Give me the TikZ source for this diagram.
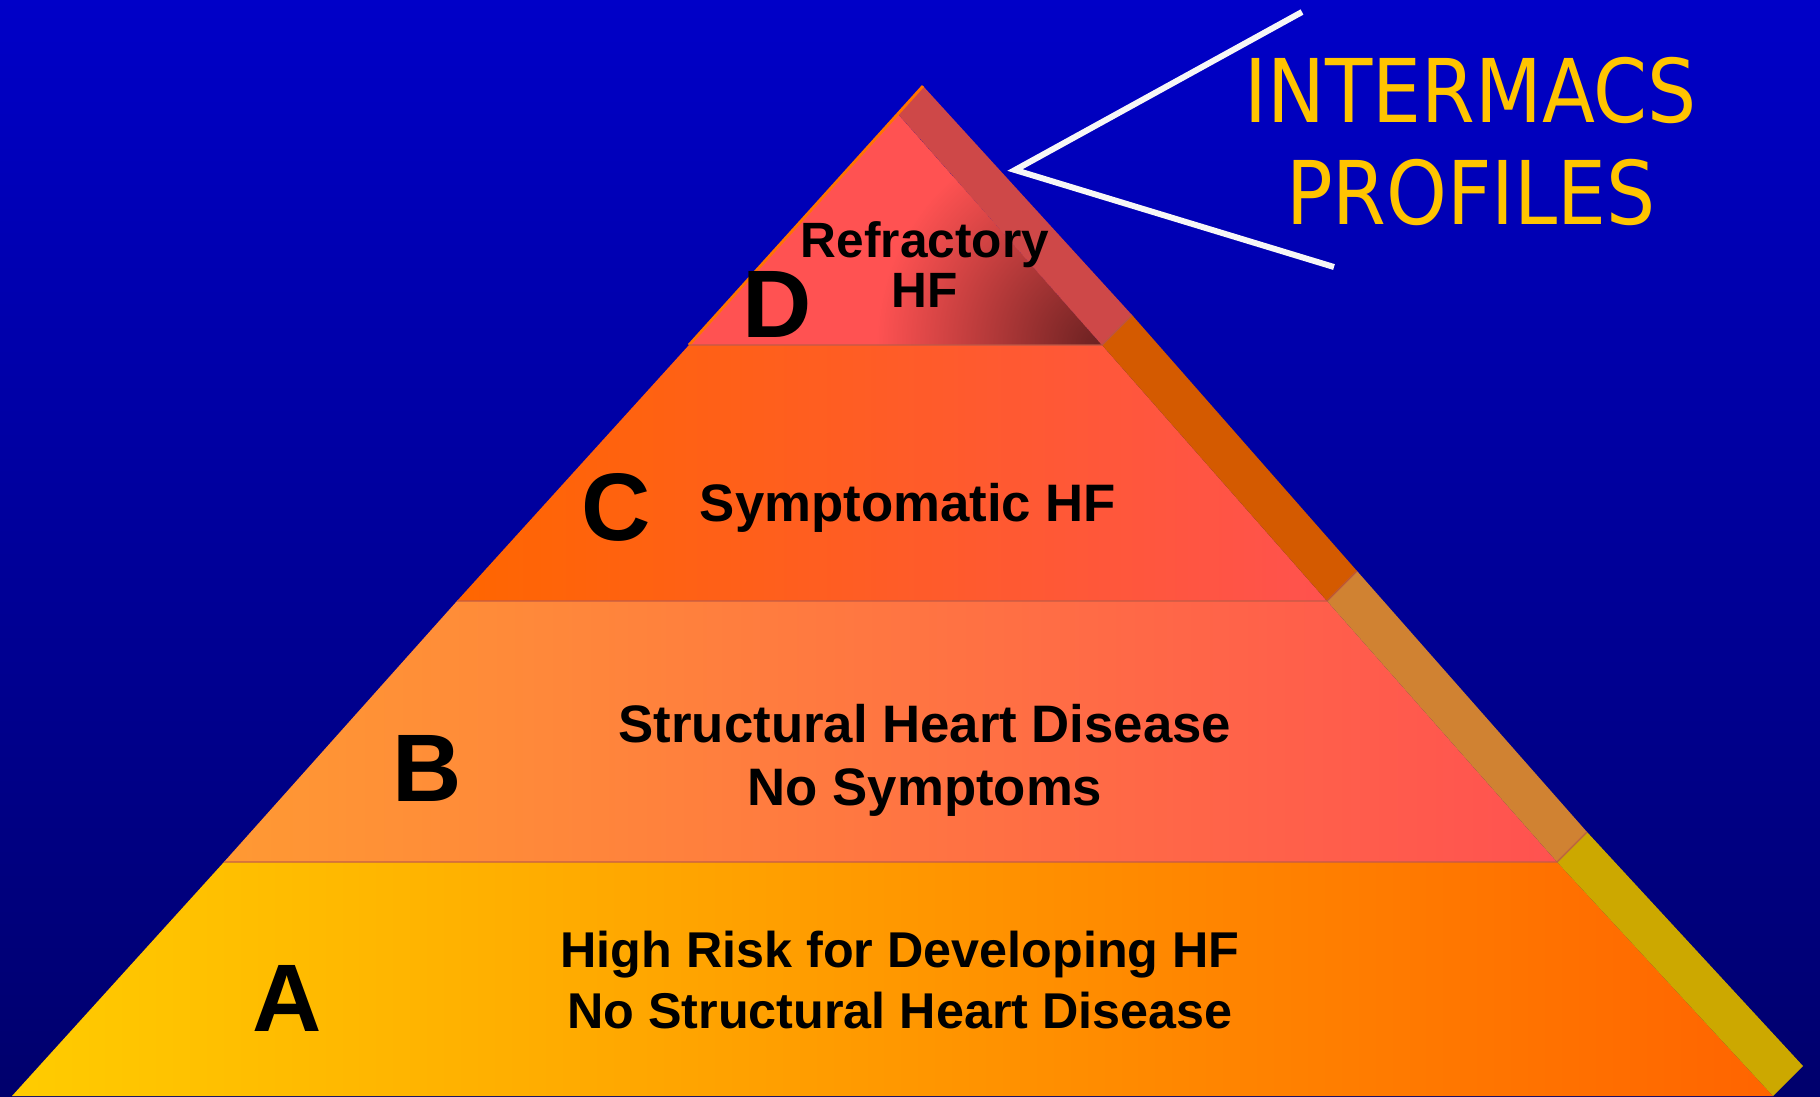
\documentclass[tikz,border=0pt]{standalone}
\usepackage{fontspec}
\setmainfont{Liberation Sans}
\newfontfamily\titlefont[FakeStretch=0.88]{DejaVu Sans}
\definecolor{bgtop}{RGB}{0,0,200}
\definecolor{bgbot}{RGB}{0,0,108}
\definecolor{dfront}{RGB}{255,82,82}
\definecolor{ddark}{RGB}{110,34,34}
\definecolor{dband}{RGB}{206,72,72}
\definecolor{cleft}{RGB}{255,102,0}
\definecolor{cright}{RGB}{255,82,78}
\definecolor{cband}{RGB}{212,90,0}
\definecolor{bleft}{RGB}{255,153,51}
\definecolor{bright}{RGB}{255,82,80}
\definecolor{bband}{RGB}{208,130,50}
\definecolor{aleft}{RGB}{255,204,0}
\definecolor{amid}{RGB}{255,180,0}
\definecolor{aright}{RGB}{255,100,0}
\definecolor{aband}{RGB}{204,168,0}
\definecolor{ttl}{RGB}{255,196,0}
\definecolor{seam}{RGB}{190,90,70}
\begin{document}
\begin{tikzpicture}[x=0.01cm,y=-0.01cm,
  letter/.style={font=\bfseries\fontsize{27.3pt}{30pt}\selectfont, text=black, inner sep=0pt, anchor=base},
  lbl/.style={font=\bfseries\fontsize{14.5pt}{17pt}\selectfont, text=black, inner sep=0pt, anchor=base},
  ttlstyle/.style={font=\titlefont\fontsize{25pt}{30pt}\selectfont, text=ttl, inner sep=0pt, anchor=base},
  seamline/.style={draw=seam, line width=0.5pt, opacity=0.6},
  pointer/.style={draw=white!97!black, line width=1.7pt}]
\useasboundingbox (0,0) rectangle (1820,1096);
\shade[top color=bgtop, bottom color=bgbot] (0,0) rectangle (1820,1096);
% key points
\coordinate (apex) at (923,86);
\coordinate (fa) at (898,114);
\coordinate (L1) at (689,345);
\coordinate (L2) at (457,601);
\coordinate (L3) at (224,862);
\coordinate (L4) at (12,1096);
\coordinate (R1) at (1102,345);
\coordinate (R2) at (1327,601);
\coordinate (R3) at (1557,862);
\coordinate (R4) at (1773,1096);
\coordinate (O1) at (1132,315);
\coordinate (O2) at (1357,571);
\coordinate (O3) at (1587,832);
\coordinate (O4) at (1803,1066);
% tier A
\shade[left color=aleft, middle color=amid, right color=aright] (L3) -- (R3) -- (R4) -- (L4) -- cycle;
\fill[aband] (R3) -- (O3) -- (O4) -- (R4) -- cycle;
% tier B
\shade[left color=bleft, right color=bright] (L2) -- (R2) -- (R3) -- (L3) -- cycle;
\fill[bband] (R2) -- (O2) -- (O3) -- (R3) -- cycle;
% tier C
\shade[left color=cleft, middle color=cleft!80!cright, right color=cright] (L1) -- (R1) -- (R2) -- (L2) -- cycle;
\fill[cband] (R1) -- (O1) -- (O2) -- (R2) -- cycle;
% tier D
\begin{scope}
\clip (fa) -- (R1) -- (L1) -- cycle;
\fill[dfront] (fa) -- (R1) -- (L1) -- cycle;
\shade[inner color=ddark, outer color=dfront] (1096,343) circle (220);
\end{scope}
\fill[dband] (fa) -- (apex) -- (O1) -- (R1) -- cycle;
\draw[draw=orange!90!red, line width=0.8pt] (apex) -- (L1);
% seams
\draw[seamline] (L1) -- (R1) -- (O1);
\draw[seamline] (L2) -- (R2) -- (O2);
\draw[seamline] (L3) -- (R3) -- (O3);
% letters
\node[letter] (lD) at (777,337) {D};
\node[letter] (lC) at (616,540) {C};
\node[letter] (lB) at (427,801) {B};
\node[letter] (lA) at (287,1031) {A};
% labels
\node[lbl, font=\bfseries\fontsize{14.1pt}{17pt}\selectfont] (d1) at (925,257) {Refractory};
\node[lbl, font=\bfseries\fontsize{14.1pt}{17pt}\selectfont] (d2) at (925,307) {HF};
\node[lbl, font=\bfseries\fontsize{15pt}{17pt}\selectfont] (c1) at (908,521) {Symptomatic HF};
\node[lbl, font=\bfseries\fontsize{15pt}{17pt}\selectfont] (b1) at (925,742) {Structural Heart Disease};
\node[lbl, font=\bfseries\fontsize{15pt}{17pt}\selectfont] (b2) at (925,805) {No Symptoms};
\node[lbl, font=\bfseries\fontsize{14.3pt}{17pt}\selectfont] (a1) at (900,967) {High Risk for Developing HF};
\node[lbl, font=\bfseries\fontsize{14.3pt}{17pt}\selectfont] (a2) at (900,1028) {No Structural Heart Disease};
% title
\node[ttlstyle] (t1) at (1471,122) {INTERMACS};
\node[ttlstyle] (t2) at (1471,224) {PROFILES};
% pointer lines
\coordinate (ptop) at (1302,12);
\coordinate (pvert) at (1015,170);
\coordinate (pbot) at (1334,267);
\draw[pointer] (ptop) -- (pvert) -- (pbot);
\end{tikzpicture}
\end{document}
